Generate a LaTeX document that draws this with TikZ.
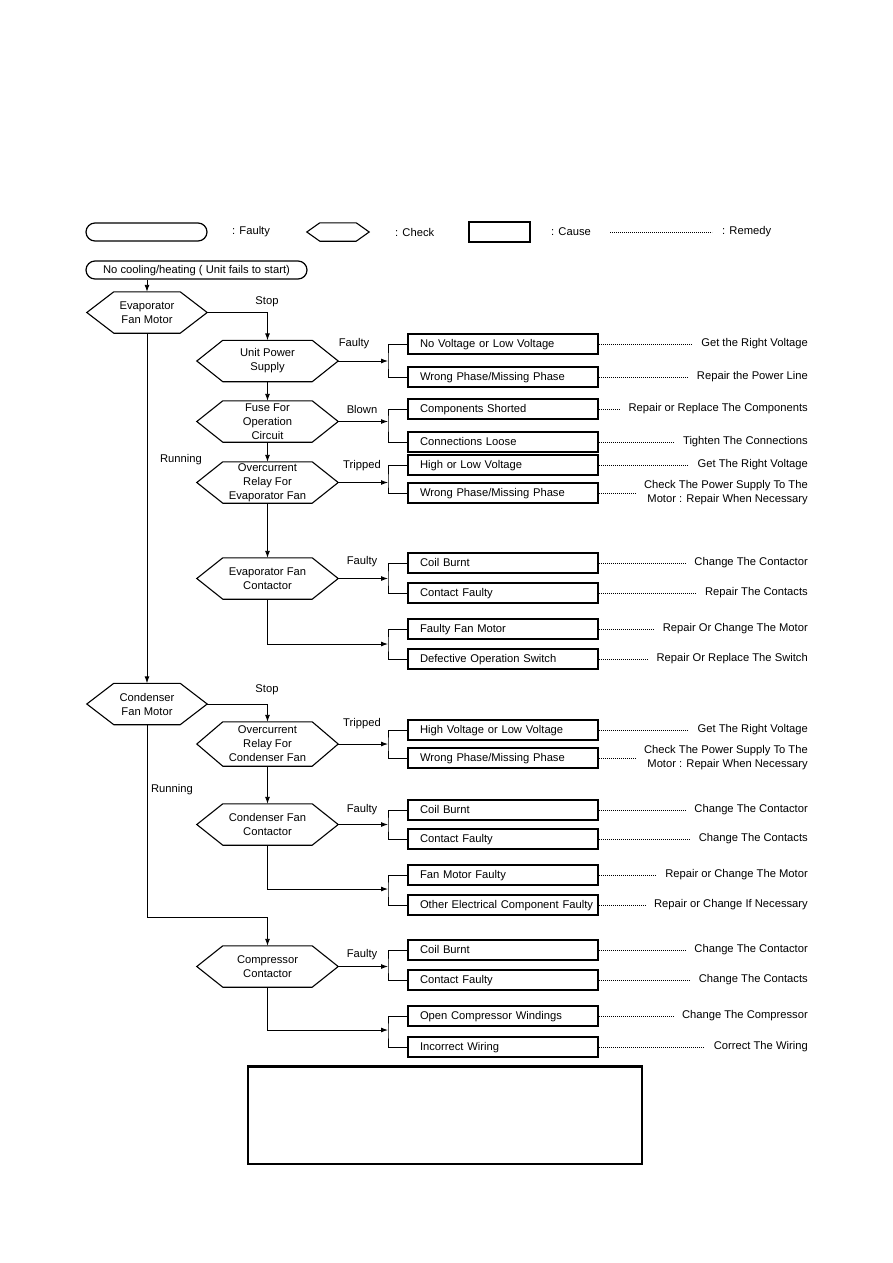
\documentclass[tikz,border=0pt]{standalone}
\usepackage{fontspec}
\setmainfont{Liberation Sans}
\usetikzlibrary{arrows.meta,calc}
\begin{document}
\begin{tikzpicture}[x=1pt,y=-1pt,
  font=\fontsize{11.2}{14}\selectfont,
  arr/.style={line width=0.9pt,-{Latex[length=7pt,width=5pt]}},
  ln/.style={line width=0.9pt},
  hexn/.style={minimum width=141pt,minimum height=41pt,inner sep=0pt,align=center},
  cbox/.style={draw,line width=1.5pt,minimum width=190pt,minimum height=20pt,inner sep=0pt,
    text width=190pt,text height=8.8pt,text depth=2.2pt,align=left,execute at begin node={\hspace*{12pt}}},
  rem/.style={anchor=east,align=right,inner xsep=9pt,inner ysep=0pt},
  dot/.style={line width=0.7pt,dash pattern=on 0.9pt off 1.1pt},
  faulty/.style={draw,line width=1.2pt,rounded corners=9pt,minimum height=18pt,inner sep=0pt},
  lbl/.style={inner sep=0pt}]
\useasboundingbox (0,0) rectangle (893,1263);

% ---------- legend ----------
\node[faulty,minimum width=121pt] (legF) at (146.5,232) {};
\node[lbl,anchor=west] (legFt) at (232,232) {: Faulty};
\node[hexn,minimum width=62pt,minimum height=18pt] (legC) at (338,232) {};
\node[lbl,anchor=west] (legCt) at (395,232) {: Check};
\node[draw,line width=1.5pt,minimum width=61pt,minimum height=20pt,inner sep=0pt] (legK) at (499.5,232) {};
\node[lbl,anchor=west] (legKt) at (551,232) {: Cause};
\coordinate (legRa) at (610,232);
\coordinate (legRb) at (712,232);
\draw[dot] (legRa) -- (legRb);
\node[lbl,anchor=west] (legRt) at (722,232) {: Remedy};

% ---------- start ----------
\node[faulty,minimum width=221pt,text height=8.8pt,text depth=2.2pt] (start) at (196.5,270) {No cooling/heating ( Unit fails to start)};

% ---------- check nodes ----------
\node[hexn,minimum width=120pt] (efm) at (147,312.5) {Evaporator\\Fan Motor};
\node[hexn] (ups) at (267.5,361) {Unit Power\\Supply};
\node[hexn] (fuse) at (267.5,421.5) {Fuse For\\Operation\\Circuit};
\node[hexn] (ocre) at (267.5,482.5) {Overcurrent\\Relay For\\Evaporator Fan};
\node[hexn] (efc) at (267.5,578.5) {Evaporator Fan\\Contactor};
\node[hexn,minimum width=120pt] (cfm) at (147,704) {Condenser\\Fan Motor};
\node[hexn,minimum height=44pt] (ocrc) at (267.5,744) {Overcurrent\\Relay For\\Condenser Fan};
\node[hexn] (cfc) at (267.5,824.5) {Condenser Fan\\Contactor};
\node[hexn] (cc) at (267.5,966.5) {Compressor\\Contactor};

\foreach \n/\s in {legC/13,efm/27,ups/26,fuse/26,ocre/26,efc/26,cfm/27,ocrc/26,cfc/26,cc/26}
  \draw[line width=1.1pt] (\n.west) -- ([xshift=\s pt]\n.north west) -- ([xshift=-\s pt]\n.north east)
     -- (\n.east) -- ([xshift=-\s pt]\n.south east) -- ([xshift=\s pt]\n.south west) -- cycle;

% ---------- main flow ----------
\draw[arr] (start.south -| efm) -- (efm.north);
\draw[arr] (efm.east) -| (ups.north);
\draw[arr] (ups.south) -- (fuse.north);
\draw[arr] (fuse.south) -- (ocre.north);
\draw[arr] (ocre.south) -- (efc.north);
\draw[arr] (efm.south) -- (cfm.north);
\draw[arr] (cfm.east) -| (ocrc.north);
\draw[arr] (ocrc.south) -- (cfc.north);
\coordinate (j2) at (147,917);
\draw[arr] (cfm.south) -- (j2) -| (cc.north);

\node[lbl] (stop1) at (267,302) {Stop};
\node[lbl] (run1) at (181,460) {Running};
\node[lbl] (stop2) at (267,690) {Stop};
\node[lbl] (run2) at (172,790) {Running};

\node[lbl] (lb1) at (354,344) {Faulty};
\node[lbl] (lb2) at (362,409) {Blown};
\node[lbl] (lb3) at (362,466) {Tripped};
\node[lbl] (lb4) at (362,562) {Faulty};
\node[lbl] (lb5) at (362,724) {Tripped};
\node[lbl] (lb6) at (362,810) {Faulty};
\node[lbl] (lb7) at (362,955) {Faulty};

% ---------- cause boxes ----------
\node[cbox] (c1) at (503,344) {No Voltage or Low Voltage};
\node[cbox] (c2) at (503,377) {Wrong Phase/Missing Phase};
\node[cbox] (c3) at (503,409) {Components Shorted};
\node[cbox] (c4) at (503,442) {Connections Loose};
\node[cbox] (c5) at (503,465) {High or Low Voltage};
\node[cbox] (c6) at (503,493) {Wrong Phase/Missing Phase};
\node[cbox] (c7) at (503,563) {Coil Burnt};
\node[cbox] (c8) at (503,593) {Contact Faulty};
\node[cbox] (c9) at (503,629) {Faulty Fan Motor};
\node[cbox] (c10) at (503,659) {Defective Operation Switch};
\node[cbox] (c11) at (503,730) {High Voltage or Low Voltage};
\node[cbox] (c12) at (503,758) {Wrong Phase/Missing Phase};
\node[cbox] (c13) at (503,810) {Coil Burnt};
\node[cbox] (c14) at (503,839) {Contact Faulty};
\node[cbox] (c15) at (503,875) {Fan Motor Faulty};
\node[cbox] (c16) at (503,905) {Other Electrical Component Faulty};
\node[cbox] (c17) at (503,950) {Coil Burnt};
\node[cbox] (c18) at (503,980) {Contact Faulty};
\node[cbox] (c19) at (503,1016) {Open Compressor Windings};
\node[cbox] (c20) at (503,1047) {Incorrect Wiring};

% ---------- branch points ----------
\coordinate (b1) at (388,361);
\coordinate (b2) at (388,421.5);
\coordinate (b3) at (388,482.5);
\coordinate (b4) at (388,578.5);
\coordinate (b5) at (388,644);
\coordinate (b6) at (388,744);
\coordinate (b7) at (388,824.5);
\coordinate (b8) at (388,889);
\coordinate (b9) at (388,966.5);
\coordinate (b10) at (388,1030);

\draw[arr] (ups.east) -- (b1);
\draw[arr] (fuse.east) -- (b2);
\draw[arr] (ocre.east) -- (b3);
\draw[arr] (efc.east) -- (b4);
\draw[arr] (efc.south) |- (b5);
\draw[arr] (ocrc.east) -- (b6);
\draw[arr] (cfc.east) -- (b7);
\draw[arr] (cfc.south) |- (b8);
\draw[arr] (cc.east) -- (b9);
\draw[arr] (cc.south) |- (b10);

\foreach \b/\u/\d in {b1/c1/c2,b2/c3/c4,b3/c5/c6,b4/c7/c8,b5/c9/c10,b6/c11/c12,b7/c13/c14,b8/c15/c16,b9/c17/c18,b10/c19/c20}
  \draw[ln] (\u.west) -| (\b) |- (\d.west);

% ---------- remedies ----------
\node[rem] (r1) at (817,344) {Get the Right Voltage};
\node[rem] (r2) at (817,377) {Repair the Power Line};
\node[rem] (r3) at (817,409) {Repair or Replace The Components};
\node[rem] (r4) at (817,442) {Tighten The Connections};
\node[rem] (r5) at (817,465) {Get The Right Voltage};
\node[rem] (r6) at (817,493) {Check The Power Supply To The\\Motor : Repair When Necessary};
\node[rem] (r7) at (817,563) {Change The Contactor};
\node[rem] (r8) at (817,593) {Repair The Contacts};
\node[rem] (r9) at (817,629) {Repair Or Change The Motor};
\node[rem] (r10) at (817,659) {Repair Or Replace The Switch};
\node[rem] (r11) at (817,730) {Get The Right Voltage};
\node[rem] (r12) at (817,758) {Check The Power Supply To The\\Motor : Repair When Necessary};
\node[rem] (r13) at (817,810) {Change The Contactor};
\node[rem] (r14) at (817,839) {Change The Contacts};
\node[rem] (r15) at (817,875) {Repair or Change The Motor};
\node[rem] (r16) at (817,905) {Repair or Change If Necessary};
\node[rem] (r17) at (817,950) {Change The Contactor};
\node[rem] (r18) at (817,980) {Change The Contacts};
\node[rem] (r19) at (817,1016) {Change The Compressor};
\node[rem] (r20) at (817,1047) {Correct The Wiring};

\foreach \i in {1,...,20}
  \draw[dot] (c\i.east) -- (r\i.west);

% ---------- empty note box ----------
\node[draw,line width=1.2pt,minimum width=394pt,minimum height=97pt,inner sep=0pt] (note) at (445,1115.5) {};
\draw[line width=2pt] (note.north west) -- (note.north east);
\end{tikzpicture}
\end{document}
